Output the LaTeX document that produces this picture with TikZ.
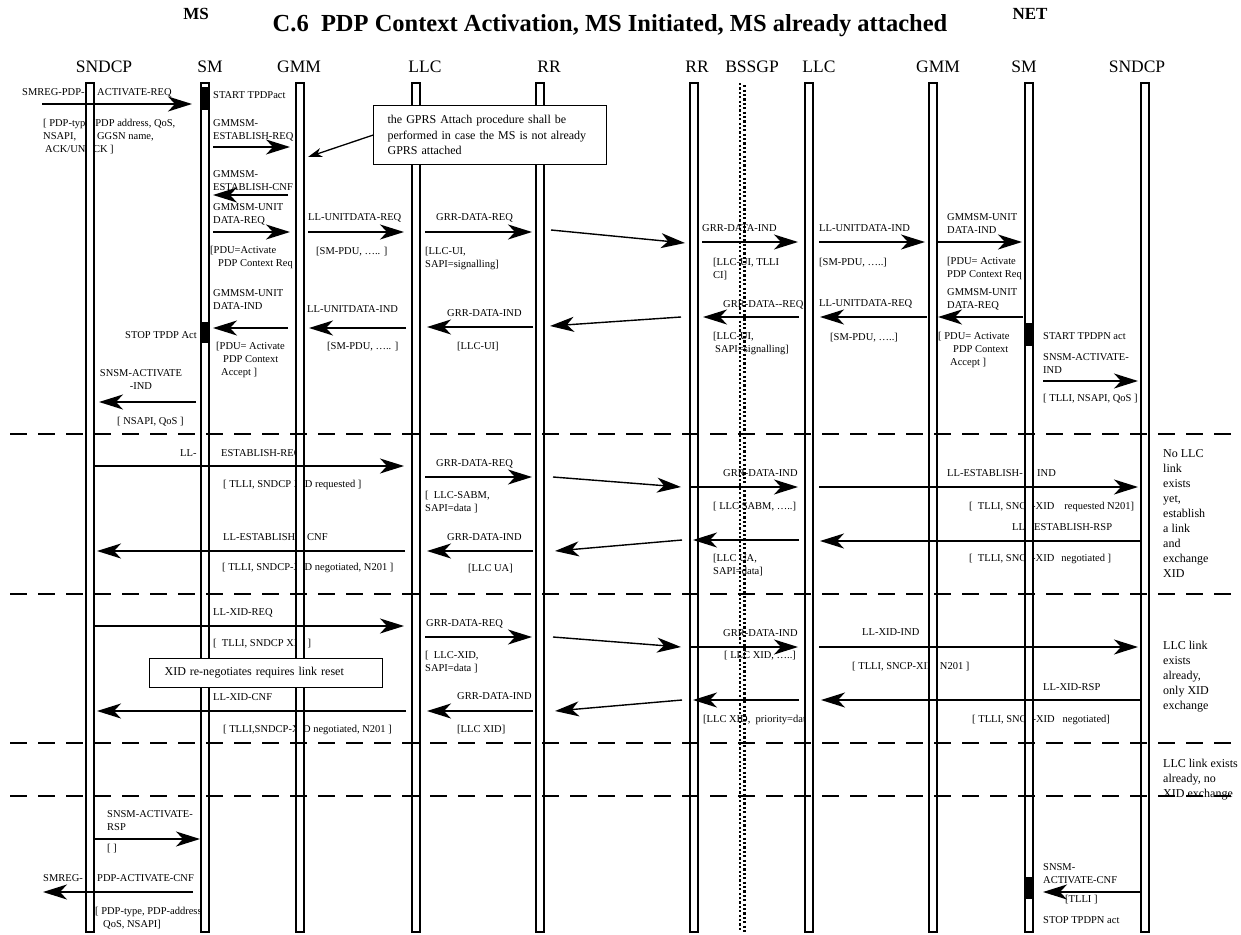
\documentclass[tikz,border=0pt]{standalone}
\usepackage{fontspec}
\setmainfont{Liberation Serif}
\usetikzlibrary{arrows.meta}
\newcommand\lblfont{\fontsize{10.5}{13}\selectfont}
\newcommand\notefont{\fontsize{12}{15.5}\selectfont}
\newcommand\annfont{\fontsize{12}{15}\selectfont}
\newcommand\hdrfont{\fontsize{17.5}{20}\selectfont}
\tikzset{
  lbl/.style={font=\lblfont, inner sep=0pt, anchor=west, text height=7pt, text depth=0pt},
  mlbl/.style={font=\lblfont, inner sep=0pt, anchor=north west, align=left},
  ann/.style={font=\annfont, inner sep=0pt, anchor=north west, align=left},
  hdr/.style={font=\hdrfont, inner sep=0pt, anchor=base},
  msg/.style={line width=1.4pt, -{Stealth[length=24pt,width=15pt,inset=7pt]}},
  notearrow/.style={line width=1.3pt, -{Stealth[length=14pt,width=9pt,inset=4pt]}},
  lifeline/.style={draw, line width=1.5pt, fill=white, minimum width=8pt, minimum height=849pt, inner sep=0pt},
  actbox/.style={fill=black},
  sepline/.style={line width=1.6pt, dash pattern=on 17pt off 11pt},
  bssgp/.style={line width=2.2pt, dash pattern=on 2.2pt off 2.2pt},
  notebox/.style={draw, line width=1.2pt, fill=white, font=\notefont, align=left, anchor=north west, inner ysep=0pt}
}
\begin{document}
\begin{tikzpicture}[x=1pt,y=-1pt]
\useasboundingbox (0,0) rectangle (1241,934);
\fill[white] (0,0) rectangle (1241,934);

% titles and headers
\node[font=\fontsize{24.5}{28}\selectfont\bfseries, inner sep=0pt, anchor=base] (title) at (610,31.5) {C.6\ \ PDP Context Activation, MS Initiated, MS already attached};
\node[font=\fontsize{17}{20}\selectfont\bfseries, inner sep=0pt, anchor=base] (hMS) at (196,20) {MS};
\node[font=\fontsize{17}{20}\selectfont\bfseries, inner sep=0pt, anchor=base] (hNET) at (1030,20) {NET};
\node[hdr] (h1) at (104,73) {SNDCP};
\node[hdr] (h2) at (210,73) {SM};
\node[hdr] (h3) at (299,73) {GMM};
\node[hdr] (h4) at (425,73) {LLC};
\node[hdr] (h5) at (549,73) {RR};
\node[hdr] (h6) at (697,73) {RR};
\node[hdr] (h7) at (752,73) {BSSGP};
\node[hdr] (h8) at (819,73) {LLC};
\node[hdr] (h9) at (938,73) {GMM};
\node[hdr] (h10) at (1024,73) {SM};
\node[hdr] (h11) at (1137,73) {SNDCP};

% ---- section 1 labels
\node[lbl] (a1) at (22,92) {SMREG-PDP-};
\node[lbl] (a2) at (97,92) {ACTIVATE-REQ};
\node[mlbl] (a3) at (43,119.3) {[ PDP-type, PDP address, QoS,\\NSAPI,\hspace{21pt}GGSN name,\\\hspace{2pt}ACK/UNACK ]};
\node[lbl] (a4) at (213,95) {START TPDPact};
\node[mlbl] (a5) at (213,119.3) {GMMSM-\\ESTABLISH-REQ};
\node[mlbl] (a6) at (213,170.3) {GMMSM-\\ESTABLISH-CNF};
\node[mlbl] (a7) at (213,203.3) {GMMSM-UNIT\\DATA-REQ};
\node[mlbl] (a8) at (210,246.3) {[PDU=Activate\\\hspace{8pt}PDP Context Req ]};
\node[lbl] (a9) at (308,217) {LL-UNITDATA-REQ};
\node[lbl] (a10) at (316,251) {[SM-PDU, ….. ]};
\node[lbl] (a11) at (436,217) {GRR-DATA-REQ};
\node[mlbl] (a12) at (425,247.3) {[LLC-UI,\\SAPI=signalling]};
\node[lbl] (a13) at (702,228) {GRR-DATA-IND};
\node[mlbl] (a14) at (713,258.3) {[LLC-UI, TLLI\\CI]};
\node[lbl] (a15) at (819,228) {LL-UNITDATA-IND};
\node[lbl] (a16) at (819,262) {[SM-PDU, …..]};
\node[mlbl] (a17) at (947,213.3) {GMMSM-UNIT\\DATA-IND};
\node[mlbl] (a18) at (947,257.3) {[PDU= Activate\\PDP Context Req ]};
\node[mlbl] (a19) at (947,288.3) {GMMSM-UNIT\\DATA-REQ};
\node[lbl] (a20) at (819,303) {LL-UNITDATA-REQ};
\node[lbl] (a21) at (830,337) {[SM-PDU, …..]};
\node[mlbl] (a22) at (938,332.3) {[ PDU= Activate\\\hspace{15pt}PDP Context\\\hspace{12pt}Accept ]};
\node[lbl] (a23) at (723,304) {GRR-DATA-{}-REQ};
\node[mlbl] (a24) at (713,332.3) {[LLC-UI,\\\hspace{2pt}SAPI=signalling]};
\node[lbl] (a25) at (447,313) {GRR-DATA-IND};
\node[lbl] (a26) at (457,346) {[LLC-UI]};
\node[lbl] (a27) at (307,309) {LL-UNITDATA-IND};
\node[lbl] (a28) at (327,346) {[SM-PDU, ….. ]};
\node[mlbl] (a29) at (213,289.3) {GMMSM-UNIT\\DATA-IND};
\node[mlbl] (a30) at (216,342.3) {[PDU= Activate\\\hspace{7pt}PDP Context\\\hspace{5pt}Accept ]};
\node[lbl, anchor=east] (a31) at (197,335) {STOP TPDP Act};
\node[mlbl, align=center, anchor=north] (a32) at (141,369.3) {SNSM-ACTIVATE\\-IND};
\node[lbl] (a33) at (117,421) {[ NSAPI, QoS ]};
\node[lbl] (a34) at (1043,336) {START TPDPN act};
\node[mlbl] (a35) at (1043,353.3) {SNSM-ACTIVATE-\\IND};
\node[lbl] (a36) at (1043,398) {[ TLLI, NSAPI, QoS ]};

% ---- section 2 labels
\node[lbl] (b1) at (180,453) {LL-};
\node[lbl] (b2) at (221,453) {ESTABLISH-REQ};
\node[lbl] (b3) at (223,484) {[ TLLI, SNDCP XID requested ]};
\node[lbl] (b4) at (436,463) {GRR-DATA-REQ};
\node[mlbl] (b5) at (425,491.3) {[\ \ LLC-SABM,\\SAPI=data ]};
\node[lbl] (b6) at (723,473) {GRR-DATA-IND};
\node[lbl] (b7) at (713,506) {[ LLC SABM, …..]};
\node[lbl] (b8) at (947,473) {LL-ESTABLISH-};
\node[lbl] (b9) at (1037,473) {IND};
\node[lbl] (b10) at (969,506) {[\ \ TLLI, SNCP-XID\hspace{10pt}requested N201]};
\node[lbl] (b11) at (1012,527) {LL-};
\node[lbl] (b12) at (1034,527) {ESTABLISH-RSP};
\node[lbl] (b13) at (969,558) {[\ \ TLLI, SNCP-XID\hspace{7pt}negotiated ]};
\node[mlbl] (b14) at (713,554.3) {[LLC UA,\\SAPI=data]};
\node[lbl] (b15) at (447,537) {GRR-DATA-IND};
\node[lbl] (b16) at (468,568) {[LLC UA]};
\node[lbl] (b17) at (223,537) {LL-ESTABLISH-};
\node[lbl] (b18) at (307,537) {CNF};
\node[lbl] (b19) at (222,567) {[ TLLI, SNDCP-XID negotiated, N201 ]};
\node[ann] (b20) at (1163,449) {No LLC\\link\\exists\\yet,\\establish\\a link\\and\\exchange\\XID};

% ---- section 3 labels
\node[lbl] (c1) at (213,612) {LL-XID-REQ};
\node[lbl] (c2) at (213,643) {[\ \ TLLI, SNDCP XID ]};
\node[lbl] (c3) at (426,623) {GRR-DATA-REQ};
\node[mlbl] (c4) at (425,651.3) {[\ \ LLC-XID,\\SAPI=data ]};
\node[lbl] (c5) at (723,633) {GRR-DATA-IND};
\node[lbl] (c6) at (724,655) {[ LLC XID, …..]};
\node[lbl] (c7) at (862,632) {LL-XID-IND};
\node[lbl] (c8) at (852,666) {[ TLLI, SNCP-XID, N201 ]};
\node[ann] (c9) at (1163,641) {LLC link\\exists\\already,\\only XID\\exchange};
\node[lbl] (c10) at (213,697) {LL-XID-CNF};
\node[lbl] (c11) at (223,729) {[ TLLI,SNDCP-XID negotiated, N201 ]};
\node[lbl] (c12) at (457,696) {GRR-DATA-IND};
\node[lbl] (c13) at (457,729) {[LLC XID]};
\node[lbl] (c14) at (703,719) {[LLC XID,\ \ priority=data]};
\node[lbl] (c15) at (1043,687) {LL-XID-RSP};
\node[lbl] (c16) at (972,719) {[ TLLI, SNCP-XID\hspace{8pt}negotiated]};

% ---- section 4 / 5 labels
\node[ann] (d1) at (1163,759) {LLC link exists\\already, no\\XID exchange};
\node[mlbl] (e1) at (107,810.3) {SNSM-ACTIVATE-\\RSP};
\node[lbl] (e2) at (107,848) {[ ]};
\node[lbl] (e3) at (43,878) {SMREG-};
\node[lbl] (e4) at (97,878) {PDP-ACTIVATE-CNF};
\node[mlbl] (e5) at (95,907.3) {[ PDP-type, PDP-address,\\\hspace{8pt}QoS, NSAPI]};
\node[mlbl] (e6) at (1043,863.3) {SNSM-\\ACTIVATE-CNF};
\node[lbl] (e7) at (1065,899) {[TLLI ]};
\node[lbl] (e8) at (1043,920) {STOP TPDPN act};

% ---- lifelines
\node[lifeline] (lSNDCP) at (90,507.5) {};
\node[lifeline] (lSM) at (205,507.5) {};
\node[lifeline] (lGMM) at (300,507.5) {};
\node[lifeline] (lLLC) at (416,507.5) {};
\node[lifeline] (lRR) at (540,507.5) {};
\node[lifeline] (lRRn) at (694,507.5) {};
\node[lifeline] (lLLCn) at (809,507.5) {};
\node[lifeline] (lGMMn) at (933,507.5) {};
\node[lifeline] (lSMn) at (1029,507.5) {};
\node[lifeline] (lSNDCPn) at (1145,507.5) {};
\draw[bssgp] (740,83) -- (740,932);
\draw[bssgp, dash phase=2.2pt] (744.4,83) -- (744.4,932);

% activation bars
\fill[actbox] (201,87) rectangle (209,110);
\fill[actbox] (201,322) rectangle (209,343);
\fill[actbox] (1025,323) rectangle (1033,346);
\fill[actbox] (1025,877) rectangle (1033,899);

% separators
\draw[sepline] (10,434) -- (1241,434);
\draw[sepline] (10,594) -- (1241,594);
\draw[sepline] (10,743) -- (1241,743);
\draw[sepline] (10,796) -- (1241,796);

% notes
\node[notebox, minimum width=233pt, minimum height=59pt, text width=205pt, inner xsep=14pt] (note1) at (373,105) {the GPRS Attach procedure shall be\\performed in case the MS is not already\\GPRS attached};
\node[notebox, minimum width=233pt, minimum height=29pt, text width=203pt, inner xsep=15pt] (note2) at (149,658) {XID re-negotiates requires link reset};
\coordinate (noteTip) at (308,157);
\draw[notearrow] (note1.west) -- (noteTip);

% ---- section 1 arrows
\draw[msg] (42,104) -- (192,104);
\draw[msg] (213,147) -- (290,147);
\draw[msg] (288,195) -- (213,195);
\draw[msg] (213,232) -- (290,232);
\draw[msg] (308,232) -- (404,232);
\draw[msg] (425,232) -- (532,232);
\draw[msg] (551,230) -- (685,243);
\draw[msg] (702,242) -- (798,242);
\draw[msg] (819,242) -- (925,242);
\draw[msg] (936,242) -- (1022,242);
\draw[msg] (1023,317) -- (938,317);
\draw[msg] (927,317) -- (820,317);
\draw[msg] (799,317) -- (703,317);
\draw[msg] (681,317) -- (550,326);
\draw[msg] (533,327) -- (427,327);
\draw[msg] (406,328) -- (309,328);
\draw[msg] (288,328) -- (213,328);
\draw[msg] (196,402) -- (99,402);
\draw[msg] (1043,381) -- (1138,381);
% ---- section 2 arrows
\draw[msg] (95,466) -- (404,466);
\draw[msg] (425,477) -- (532,477);
\draw[msg] (553,477) -- (681,487);
\draw[msg] (690,487) -- (798,487);
\draw[msg] (819,487) -- (1138,487);
\draw[msg] (1141,541) -- (820,541);
\draw[msg] (799,540) -- (693,540);
\draw[msg] (682,540) -- (555,551);
\draw[msg] (533,551) -- (427,551);
\draw[msg] (405,551) -- (97,551);
% ---- section 3 arrows
\draw[msg] (95,626) -- (404,626);
\draw[msg] (425,637) -- (532,637);
\draw[msg] (553,637) -- (681,647);
\draw[msg] (690,647) -- (798,647);
\draw[msg] (819,647) -- (1138,647);
\draw[msg] (406,711) -- (97,711);
\draw[msg] (533,711) -- (427,711);
\draw[msg] (682,700) -- (555,711);
\draw[msg] (799,700) -- (693,700);
\draw[msg] (1140,700) -- (821,700);
% ---- section 5 arrows
\draw[msg] (95,839) -- (200,839);
\draw[msg] (193,892) -- (43,892);
\draw[msg] (1140,892) -- (1043,892);
\end{tikzpicture}
\end{document}
